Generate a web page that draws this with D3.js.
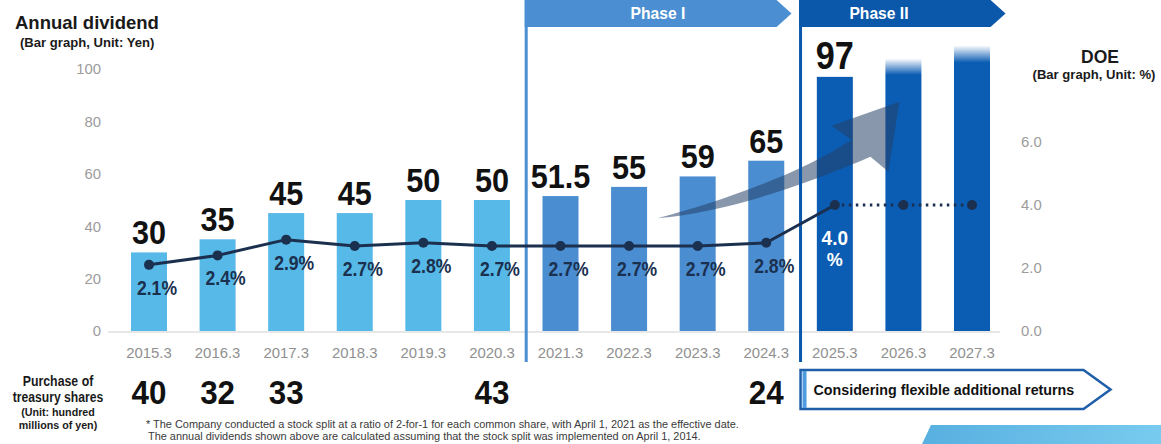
<!DOCTYPE html>
<html>
<head>
<meta charset="utf-8">
<script src="https://cdn.jsdelivr.net/npm/d3@7/dist/d3.min.js"></script>
<style>
  html, body { margin: 0; padding: 0; background: #fff; }
  svg { display: block; font-family: "Liberation Sans", Arial, sans-serif; }
</style>
</head>
<body>
<svg id="chart" width="1161" height="444"></svg>
<script>
// Fiscal years (March year-end)
const categories = ["2015.3","2016.3","2017.3","2018.3","2019.3","2020.3",
                    "2021.3","2022.3","2023.3","2024.3","2025.3","2026.3","2027.3"];
// Annual dividend per share (yen)
const dividends = [30, 35, 45, 45, 50, 50, 51.5, 55, 59, 65, 97, 104, 109];
// Printed dividend labels (the last two years are unlabelled projections)
const dividendLabels = ["30","35","45","45","50","50","51.5","55","59","65","97", null, null];
// Plan period of each year
const periods = ["past","past","past","past","past","past",
                 "phase1","phase1","phase1","phase1","phase2","phase2","phase2"];
// Dividend on equity (%)
const doe = [2.1, 2.4, 2.9, 2.7, 2.8, 2.7, 2.7, 2.7, 2.7, 2.8, 4.0, 4.0, 4.0];
// Purchase of treasury shares (hundred millions of yen)
const buybacks = [40, 32, 33, null, null, 43, null, null, null, 24, null, null, null];
// Axis ticks
const leftTicks = [0, 20, 40, 60, 80, 100];
const rightTicks = [0, 2, 4, 6];

const colors = { past: "#57b9e7", phase1: "#4a8dd1", phase2: "#0b5cb3" };
const navy = "#1b2f4e";

const svg = d3.select("#chart");
const defs = svg.append("defs");

// squeeze text horizontally to a narrow face
function condense(sel, f) {
  sel.each(function () {
    const w = this.getComputedTextLength();
    d3.select(this).attr("textLength", w * f).attr("lengthAdjust", "spacingAndGlyphs");
  });
  return sel;
}

const x = d3.scaleBand().domain(categories).range([131, 990]).paddingInner(0.475).paddingOuter(0);
const yL = d3.scaleLinear().domain([0, 100]).range([331, 69]);
const yR = d3.scaleLinear().domain([0, 6]).range([331, 142]);
const bw = x.bandwidth();
const cx = c => x(c) + bw / 2;

// fade for the projected bars
const fade = defs.append("linearGradient").attr("id", "fadeTop")
  .attr("x1", 0).attr("x2", 0).attr("y1", 0).attr("y2", 1);
fade.append("stop").attr("offset", 0).attr("stop-color", colors.phase2).attr("stop-opacity", 0);
fade.append("stop").attr("offset", 0.06).attr("stop-color", colors.phase2).attr("stop-opacity", 1);
fade.append("stop").attr("offset", 1).attr("stop-color", colors.phase2).attr("stop-opacity", 1);

const bannerGrad = defs.append("linearGradient").attr("id", "tabGrad")
  .attr("x1", 0).attr("x2", 1).attr("y1", 0).attr("y2", 0);
bannerGrad.append("stop").attr("offset", 0).attr("stop-color", "#58b0e0");
bannerGrad.append("stop").attr("offset", 1).attr("stop-color", "#78cbef");

// ---- titles ----
svg.append("text").attr("x", 15).attr("y", 29).attr("font-size", 18.5).attr("font-weight", "bold")
  .attr("fill", "#1a1a1a").text("Annual dividend");
condense(svg.append("text").attr("x", 20).attr("y", 47).attr("font-size", 13.5).attr("font-weight", "bold")
  .attr("fill", "#1a1a1a").text("(Bar graph, Unit: Yen)"), 0.97);
svg.append("text").attr("x", 1100).attr("y", 63).attr("text-anchor", "middle").attr("font-size", 17.5)
  .attr("font-weight", "bold").attr("fill", "#1a1a1a").text("DOE");
condense(svg.append("text").attr("x", 1094).attr("y", 79).attr("text-anchor", "middle").attr("font-size", 13.5)
  .attr("font-weight", "bold").attr("fill", "#1a1a1a").text("(Bar graph, Unit: %)"), 0.97);

// ---- axes ----
const axL = svg.append("g").attr("transform", "translate(101,0)")
  .call(d3.axisLeft(yL).tickValues(leftTicks).tickSize(0).tickPadding(0));
const axR = svg.append("g").attr("transform", "translate(1021,0)")
  .call(d3.axisRight(yR).tickValues(rightTicks).tickFormat(d3.format(".1f")).tickSize(0).tickPadding(0));
const axB = svg.append("g").attr("transform", "translate(0,331)")
  .call(d3.axisBottom(x).tickSize(0).tickPadding(16));
[axL, axR, axB].forEach(g => {
  g.select(".domain").remove();
  g.selectAll("text").attr("font-family", "Liberation Sans, Arial, sans-serif")
    .attr("font-size", 15.5).attr("fill", "#9c9c9c");
  condense(g.selectAll("text"), 0.96);
});
axB.selectAll("text").attr("fill", "#909090");

svg.append("line").attr("x1", x.range()[0] - 23).attr("x2", x.range()[1] + 10)
  .attr("y1", yL(0) + 1).attr("y2", yL(0) + 1).attr("stroke", "#cfcfcf").attr("stroke-width", 1);

// ---- bars ----
svg.append("g").selectAll("rect").data(categories).join("rect")
  .attr("x", d => x(d))
  .attr("width", bw)
  .attr("y", (d, i) => yL(dividends[i]))
  .attr("height", (d, i) => yL(0) - yL(dividends[i]))
  .attr("fill", (d, i) => dividendLabels[i] === null ? "url(#fadeTop)" : colors[periods[i]]);

// ---- growth arrow ----
const tip = [cx("2026.3") - 4, yL(87.5)];
const arrowPts = {
  tail: [tip[0] - 242, yL(43)],
  neckUp: [tip[0] - 48, tip[1] + 38],
  wingUp: [tip[0] - 68, tip[1] + 24],
  wingDn: [tip[0] - 11, tip[1] + 70],
  neckDn: [tip[0] - 29, tip[1] + 55]
};
const ap = arrowPts;
const arrowPath = `M${ap.tail} C${ap.tail[0] + 60},${ap.tail[1] - 16} ${ap.neckUp[0] - 50},${ap.neckUp[1] + 34} ${ap.neckUp}
  L${ap.wingUp} L${tip} L${ap.wingDn} L${ap.neckDn}
  C${ap.neckDn[0] - 60},${ap.neckDn[1] + 26} ${ap.tail[0] + 70},${ap.tail[1] - 6} ${ap.tail} Z`;
svg.append("path").attr("d", arrowPath).attr("fill", "rgb(38,66,104)").attr("fill-opacity", 0.55);

// ---- phase banners and dividers ----
const div1 = (x("2020.3") + bw + x("2021.3")) / 2;
const div2 = (x("2024.3") + bw + x("2025.3")) / 2;
const tabH = 27;
function tab(x0, x1, fill, label, tx) {
  svg.append("path")
    .attr("d", `M${x0},0 L${x1},0 L${x1 + 15},${tabH / 2} L${x1},${tabH} L${x0},${tabH} Z`)
    .attr("fill", fill);
  condense(svg.append("text").attr("x", tx).attr("y", 19).attr("text-anchor", "middle")
    .attr("font-size", 17).attr("font-weight", "bold").attr("fill", "#fff").text(label), 0.92);
}
tab(div1 - 1.5, div2 - 24, "#4b8fd2", "Phase I", 658);
tab(div2 - 1.5, div2 + 190, "#0b58aa", "Phase II", 879);
svg.append("line").attr("x1", div1).attr("x2", div1).attr("y1", 0).attr("y2", 362)
  .attr("stroke", "#4b8fd2").attr("stroke-width", 3);
svg.append("line").attr("x1", div2).attr("x2", div2).attr("y1", 0).attr("y2", 362)
  .attr("stroke", "#0b58aa").attr("stroke-width", 3);

// ---- DOE line ----
const pts = categories.map((c, i) => [cx(c), yR(doe[i])]);
const line = d3.line();
svg.append("path").attr("d", line(pts.slice(0, 11))).attr("fill", "none")
  .attr("stroke", navy).attr("stroke-width", 3).attr("stroke-linejoin", "round");
svg.append("path").attr("d", line(pts.slice(10))).attr("fill", "none")
  .attr("stroke", navy).attr("stroke-width", 3).attr("stroke-dasharray", "2.5 4.5");
svg.append("g").selectAll("circle").data(pts).join("circle")
  .attr("cx", d => d[0]).attr("cy", d => d[1]).attr("r", 5).attr("fill", navy);

// DOE labels
condense(svg.append("g").selectAll("text").data(categories.slice(0, 10)).join("text")
  .attr("x", d => cx(d) + 8)
  .attr("y", (d, i) => yR(doe[i]) + 30)
  .attr("text-anchor", "middle").attr("font-size", 19.5).attr("font-weight", "bold")
  .attr("fill", navy).text((d, i) => doe[i].toFixed(1) + "%"), 0.9);
condense(svg.append("text").attr("x", cx("2025.3")).attr("y", yR(doe[10]) + 40).attr("text-anchor", "middle")
  .attr("font-size", 20).attr("font-weight", "bold").attr("fill", "#fff").text(doe[10].toFixed(1)), 0.95);
svg.append("text").attr("x", cx("2025.3")).attr("y", yR(doe[10]) + 61).attr("text-anchor", "middle")
  .attr("font-size", 18).attr("font-weight", "bold").attr("fill", "#fff").text("%");

// dividend labels
condense(svg.append("g").selectAll("text").data(categories.filter((c, i) => dividendLabels[i] !== null)).join("text")
  .attr("x", d => cx(d))
  .attr("y", (d, i) => yL(dividends[i]) - 8)
  .attr("text-anchor", "middle")
  .attr("font-size", (d, i) => i === 10 ? 38 : 34)
  .attr("font-weight", "bold").attr("fill", "#111")
  .text((d, i) => dividendLabels[i]), 0.9);

// ---- treasury share purchases ----
const lbl = svg.append("g").attr("font-weight", "bold").attr("fill", "#1a1a1a").attr("text-anchor", "middle");
condense(lbl.append("text").attr("x", 58).attr("y", 386).attr("font-size", 14.5).text("Purchase of"), 0.85);
condense(lbl.append("text").attr("x", 58).attr("y", 402).attr("font-size", 14.5).text("treasury shares"), 0.84);
condense(lbl.append("text").attr("x", 58).attr("y", 416).attr("font-size", 11.5).text("(Unit: hundred"), 0.93);
condense(lbl.append("text").attr("x", 58).attr("y", 429).attr("font-size", 11.5).text("millions of yen)"), 0.93);

condense(svg.append("g").selectAll("text").data(categories.filter((c, i) => buybacks[i] !== null)).join("text")
  .attr("x", d => cx(d)).attr("y", 404).attr("text-anchor", "middle")
  .attr("font-size", 33).attr("font-weight", "bold").attr("fill", "#111")
  .text(d => buybacks[categories.indexOf(d)]), 0.95);

// flexible returns callout
const bx0 = div2, bx1 = div2 + 283, by0 = 370, by1 = 409;
svg.append("path")
  .attr("d", `M${bx0},${by0} L${bx1},${by0} L${bx1 + 27},${(by0 + by1) / 2} L${bx1},${by1} L${bx0},${by1} Z`)
  .attr("fill", "#fff").attr("stroke", "#1f5ea8").attr("stroke-width", 2.5).attr("stroke-linejoin", "miter");
svg.append("rect").attr("x", bx0 + 2).attr("y", by0 + 1).attr("width", 4).attr("height", by1 - by0 - 2)
  .attr("fill", "#4f9be0");
condense(svg.append("text").attr("x", bx0 + 13).attr("y", 395).attr("font-size", 15.5).attr("font-weight", "bold")
  .attr("fill", "#111").text("Considering flexible additional returns"), 0.92);

// footnote
const fn = svg.append("g").attr("font-size", 11.5).attr("fill", "#3a3a3a");
condense(fn.append("text").attr("x", 146).attr("y", 428)
  .text("* The Company conducted a stock split at a ratio of 2-for-1 for each common share, with April 1, 2021 as the effective date."), 0.95);
condense(fn.append("text").attr("x", 148).attr("y", 440)
  .text("The annual dividends shown above are calculated assuming that the stock split was implemented on April 1, 2014."), 0.95);

// lower-right tab
svg.append("path").attr("d", "M922,444 L931,425 L1161,425 L1161,444 Z").attr("fill", "url(#tabGrad)");
</script>
</body>
</html>
